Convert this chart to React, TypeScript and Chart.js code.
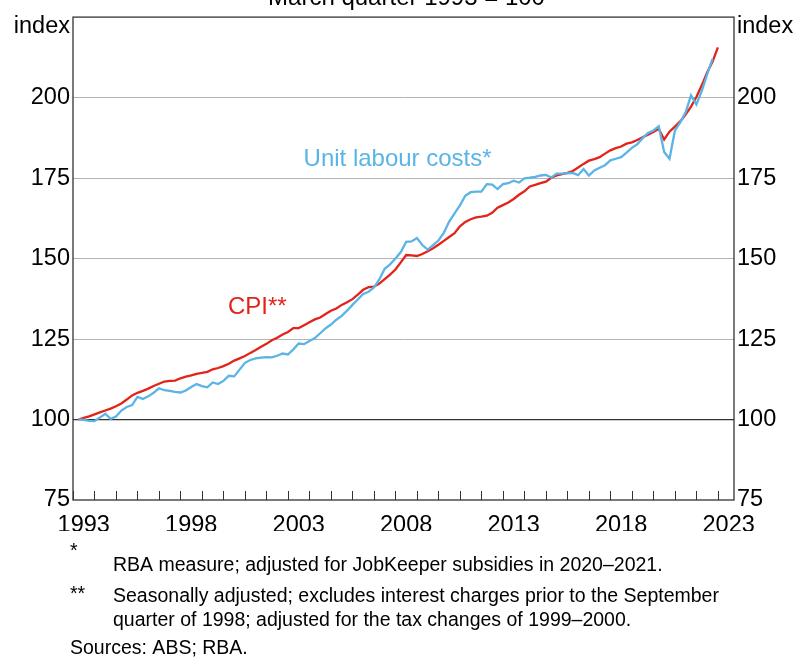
import React, { useEffect, useRef } from "react";
import { Chart, registerables } from "chart.js";

Chart.register(...registerables);

const START_YEAR = 1993;
const AXIS_MIN_YEAR = 1993;
const AXIS_MAX_YEAR = 2023.75;
const LABEL_YEARS = [1993, 1998, 2003, 2008, 2013, 2018, 2023];
const Y_MIN = 75;
const Y_MAX = 225;
const Y_STEP = 25;

// Quarterly, March quarter 1993 = 100 (CPI to Dec 2022, ULC to Sep 2022)
const cpi = [
  100.0, 100.5, 101.0, 101.6, 102.2, 102.8, 103.4, 104.1, 105.0, 106.2,
  107.5, 108.3, 108.9, 109.6, 110.4, 111.1, 111.8, 112.0, 112.1, 112.8,
  113.3, 113.7, 114.2, 114.5, 114.8, 115.6, 116.0, 116.6, 117.3, 118.3,
  119.0, 119.7, 120.7, 121.6, 122.6, 123.5, 124.6, 125.4, 126.4, 127.2,
  128.4, 128.4, 129.3, 130.2, 131.1, 131.7, 132.8, 133.8, 134.5, 135.6,
  136.4, 137.4, 138.8, 140.3, 141.1, 141.3, 142.2, 143.6, 145.0, 146.6,
  148.8, 151.1, 151.0, 150.8, 151.4, 152.3, 153.2, 154.3, 155.5, 156.7,
  157.9, 160.0, 161.4, 162.2, 162.8, 163.0, 163.3, 164.2, 165.8, 166.6,
  167.4, 168.5, 169.8, 170.9, 172.4, 172.9, 173.4, 173.9, 175.1, 175.8,
  176.2, 176.6, 177.2, 178.3, 179.4, 180.4, 180.9, 181.5, 182.6, 183.6,
  184.3, 184.8, 185.7, 186.1, 186.8, 187.7, 188.5, 189.3, 190.3, 187.0,
  189.4, 191.0, 192.6, 194.7, 197.2, 200.2, 203.8, 207.8, 211.1, 215.6,
];

const ulc = [
  100.0, 99.9, 99.6, 99.5, 100.6, 101.8, 100.2, 100.9, 102.8, 103.9,
  104.5, 107.0, 106.4, 107.2, 108.3, 109.7, 109.1, 108.9, 108.6, 108.4,
  109.0, 110.1, 111.0, 110.4, 110.0, 111.5, 111.0, 112.0, 113.6, 113.4,
  115.5, 117.6, 118.5, 119.0, 119.2, 119.4, 119.3, 119.8, 120.5, 120.2,
  121.8, 123.6, 123.4, 124.4, 125.3, 126.8, 128.3, 129.5, 131.0, 132.2,
  133.8, 135.6, 137.3, 139.0, 139.7, 141.0, 143.5, 146.8, 148.2, 150.0,
  152.0, 155.2, 155.3, 156.4, 154.2, 152.8, 154.2, 155.6, 158.0, 161.5,
  164.0, 166.5, 169.5, 170.6, 170.8, 170.8, 173.1, 173.0, 171.6, 173.1,
  173.4, 174.2, 173.6, 174.9, 175.1, 175.4, 175.8, 176.0, 175.2, 176.4,
  176.4, 176.5, 176.6, 175.9, 177.8, 175.8, 177.4, 178.2, 179.0, 180.5,
  181.0, 181.5, 182.9, 184.4, 185.5, 187.4, 189.0, 189.8, 191.1, 183.1,
  181.0, 189.7, 192.3, 195.4, 200.7, 197.9, 202.0, 207.2, 212.0,
];

const TITLE = "March quarter 1993 = 100";
const UNIT = "index";
const ULC_LABEL = "Unit labour costs*";
const CPI_LABEL = "CPI**";
const FOOTNOTE_MARKS = ["*", "**"];
const FOOTNOTE_LINES = [
  "RBA measure; adjusted for JobKeeper subsidies in 2020–2021.",
  "Seasonally adjusted; excludes interest charges prior to the September",
  "quarter of 1998; adjusted for the tax changes of 1999–2000.",
];
const SOURCES = "Sources: ABS; RBA.";

const RED = "#e2231a";
const BLUE = "#5ab4e5";
const FONT = 'Arial, "Liberation Sans", sans-serif';
const TICK_SIZE = 23.5;

const toPoints = (arr: number[]) =>
  arr.map((v, i) => ({ x: START_YEAR + (i + 1) * 0.25, y: v }));

const decorPlugin = {
  id: "decor",
  afterDraw(chart: any) {
    const { ctx, chartArea, scales } = chart;
    const xs = scales.x;
    const ys = scales.y;
    ctx.save();
    // year tick marks
    ctx.strokeStyle = "#333";
    ctx.lineWidth = 1;
    for (let yr = Math.ceil(AXIS_MIN_YEAR); yr <= Math.floor(AXIS_MAX_YEAR); yr++) {
      const px = Math.round(xs.getPixelForValue(yr)) + 0.5;
      ctx.beginPath();
      ctx.moveTo(px, chartArea.bottom);
      ctx.lineTo(px, chartArea.bottom - 9);
      ctx.stroke();
    }
    // frame
    ctx.strokeStyle = "#333";
    ctx.lineWidth = 1.3;
    ctx.strokeRect(chartArea.left, chartArea.top, chartArea.right - chartArea.left, chartArea.bottom - chartArea.top);

    ctx.fillStyle = "#000";
    ctx.font = `24px ${FONT}`;
    ctx.textBaseline = "alphabetic";
    ctx.textAlign = "center";
    ctx.fillText(TITLE, (chartArea.left + chartArea.right) / 2 + 3, 5);

    ctx.font = `${TICK_SIZE}px ${FONT}`;
    ctx.textAlign = "right";
    ctx.fillText(UNIT, chartArea.left - 3, 33);
    ctx.textAlign = "left";
    ctx.fillText(UNIT, chartArea.right + 3, 33);

    // series labels
    ctx.font = `24px ${FONT}`;
    ctx.textAlign = "center";
    ctx.textBaseline = "middle";
    ctx.fillStyle = BLUE;
    ctx.fillText(ULC_LABEL, xs.getPixelForValue(2008.1), ys.getPixelForValue(180.9));
    ctx.fillStyle = RED;
    ctx.fillText(CPI_LABEL, xs.getPixelForValue(2001.57), ys.getPixelForValue(134.8));

    // footnotes
    ctx.fillStyle = "#000";
    ctx.textAlign = "left";
    ctx.textBaseline = "alphabetic";
    ctx.font = `19.5px ${FONT}`;
    ctx.fillText(FOOTNOTE_MARKS[0], 70, 557);
    ctx.fillText(FOOTNOTE_MARKS[1], 70, 600);
    ctx.fillText(FOOTNOTE_LINES[0], 113, 571);
    ctx.fillText(FOOTNOTE_LINES[1], 113, 602);
    ctx.fillText(FOOTNOTE_LINES[2], 113, 626);
    ctx.fillText(SOURCES, 70, 654);
    ctx.restore();
  },
};

export default function App() {
  const ref = useRef<HTMLCanvasElement | null>(null);
  useEffect(() => {
    if (!ref.current) return;
    const chart = new Chart(ref.current, {
      type: "line",
      data: {
        datasets: [
          {
            label: ULC_LABEL,
            data: toPoints(ulc),
            borderColor: BLUE,
            borderWidth: 2.3,
            pointRadius: 0,
            tension: 0,
          },
          {
            label: CPI_LABEL,
            data: toPoints(cpi),
            borderColor: RED,
            borderWidth: 2.3,
            pointRadius: 0,
            tension: 0,
          },
        ],
      },
      options: {
        animation: false,
        responsive: false,
        maintainAspectRatio: false,
        layout: { padding: { top: 14, bottom: 126, left: 0, right: 0 } },
        plugins: { legend: { display: false }, tooltip: { enabled: false }, title: { display: false } },
        scales: {
          x: {
            type: "linear",
            min: AXIS_MIN_YEAR,
            max: AXIS_MAX_YEAR,
            grid: { display: false },
            border: { display: false },
            afterBuildTicks: (scale: any) => {
              scale.ticks = LABEL_YEARS.map((v) => ({ value: v + 0.5 }));
            },
            afterFit: (scale: any) => {
              scale.height = 31;
            },
            ticks: {
              autoSkip: false,
              maxRotation: 0,
              padding: 3,
              color: "#000",
              font: { family: FONT, size: TICK_SIZE },
              callback: (v: any) => String(Math.floor(Number(v))),
            },
          },
          y: {
            position: "left",
            min: Y_MIN,
            max: Y_MAX,
            afterFit: (scale: any) => {
              scale.width = 73;
            },
            grid: {
              drawTicks: false,
              color: (c: any) =>
                c.tick.value === 100 ? "#333" : c.tick.value === Y_MIN || c.tick.value === Y_MAX ? "rgba(0,0,0,0)" : "#b5b5b5",
              lineWidth: (c: any) => (c.tick.value === 100 ? 1.3 : 1),
            },
            border: { display: false },
            ticks: {
              stepSize: Y_STEP,
              padding: 3,
              color: "#000",
              font: { family: FONT, size: TICK_SIZE },
              callback: (v: any) => (Number(v) === Y_MAX ? "" : String(v)),
            },
          },
          y2: {
            position: "right",
            min: Y_MIN,
            max: Y_MAX,
            afterFit: (scale: any) => {
              scale.width = 64;
            },
            grid: { display: false, drawTicks: false },
            border: { display: false },
            ticks: {
              stepSize: Y_STEP,
              padding: 3,
              color: "#000",
              font: { family: FONT, size: TICK_SIZE },
              callback: (v: any) => (Number(v) === Y_MAX ? "" : String(v)),
            },
          },
        },
      },
      plugins: [decorPlugin],
    });
    return () => chart.destroy();
  }, []);
  return (
    <div style={{ position: "absolute", left: 0, top: 0, width: 798, height: 657 }}>
      <canvas ref={ref} width={798} height={657} style={{ width: 798, height: 657 }} />
    </div>
  );
}
